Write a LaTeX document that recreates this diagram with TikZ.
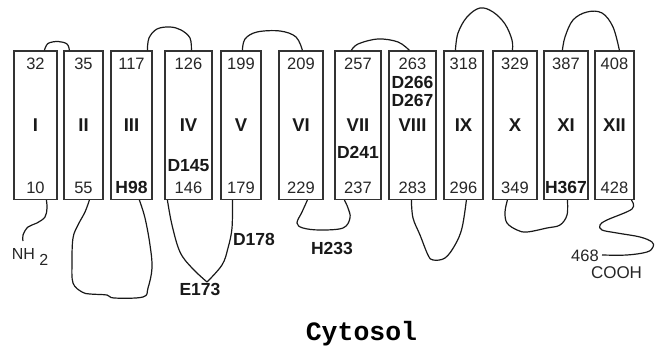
\documentclass[tikz,border=0pt]{standalone}
\usepackage{fontspec}
\setmainfont{Liberation Sans}
\newfontfamily\courfont{Liberation Mono}
\begin{document}
\begin{tikzpicture}[x=1pt,y=-1pt,
  tm/.style={draw=black!80, line width=1.2pt, minimum height=148.5pt, inner sep=0pt},
  num/.style={font=\fontsize{16.5}{18}\selectfont, text=black!85, inner sep=0pt},
  bl/.style={font=\bfseries\fontsize{17.5}{20}\selectfont, text=black!90, inner sep=0pt},
  rn/.style={font=\bfseries\fontsize{18.5}{20}\selectfont, text=black!90, inner sep=0pt},
  lp/.style={draw=black!90, line width=1.2pt, line join=round},
  sm/.style={smooth, tension=0.6}]
\useasboundingbox (0,0) rectangle (655,347);
% helices
\node[tm, minimum width=43pt] (b1)  at (35.5,125.25) {};
\node[tm, minimum width=39pt] (b2)  at (83.5,125.25) {};
\node[tm, minimum width=41pt] (b3)  at (131.5,125.25) {};
\node[tm, minimum width=47pt] (b4)  at (188.5,125.25) {};
\node[tm, minimum width=40pt] (b5)  at (241,125.25) {};
\node[tm, minimum width=44pt] (b6)  at (301,125.25) {};
\node[tm, minimum width=46pt] (b7)  at (358,125.25) {};
\node[tm, minimum width=47pt] (b8)  at (412.5,125.25) {};
\node[tm, minimum width=39pt] (b9)  at (463.5,125.25) {};
\node[tm, minimum width=44pt] (b10) at (515,125.25) {};
\node[tm, minimum width=44pt] (b11) at (566,125.25) {};
\node[tm, minimum width=39pt] (b12) at (614.5,125.25) {};
% roman numerals
\foreach \b/\r in {b1/I,b2/II,b3/III,b4/IV,b5/V,b6/VI,b7/VII,b8/VIII,b9/IX,b10/X,b11/XI,b12/XII}
  \node[rn] (r\b) at (\b.center) {\r};
% top numbers
\foreach \b/\t in {b1/32,b2/35,b3/117,b4/126,b5/199,b6/209,b7/257,b8/263,b9/318,b10/329,b11/387,b12/408}
  \node[num] (t\b) at ([yshift=-13pt]\b.north) {\t};
% bottom numbers
\foreach \b/\t in {b1/10,b2/55,b4/146,b5/179,b6/229,b7/237,b8/283,b9/296,b10/349,b12/428}
  \node[num] (s\b) at ([yshift=12.5pt]\b.south) {\t};
\node[bl] (h98)  at ([yshift=12.5pt]b3.south) {H98};
\node[bl] (h367) at ([yshift=12.5pt]b11.south) {H367};
\node[bl] (d145) at ([yshift=34.5pt]b4.south) {D145};
\node[bl] (d241) at ([yshift=47.5pt]b7.south) {D241};
\node[bl] (d266) at ([yshift=-32pt]b8.north) {D266};
\node[bl] (d267) at ([yshift=-50pt]b8.north) {D267};
% top loops
\coordinate (a1) at ([xshift=31pt]b1.north west);
\coordinate (a2) at ([xshift=6pt]b2.north west);
\coordinate (a3) at ([xshift=37pt]b3.north west);
\coordinate (a4) at ([xshift=27pt]b4.north west);
\coordinate (a5) at ([xshift=22pt]b5.north west);
\coordinate (a6) at ([xshift=24pt]b6.north west);
\coordinate (a7) at ([xshift=17pt]b7.north west);
\coordinate (a8) at ([xshift=21pt]b8.north west);
\coordinate (a9) at ([xshift=12pt]b9.north west);
\coordinate (a10) at ([xshift=20pt]b10.north west);
\coordinate (a11) at ([xshift=19pt]b11.north west);
\coordinate (a12) at ([xshift=25pt]b12.north west);
\draw[lp] plot[sm] coordinates {(a1) (48,43.5) (58,41.5) (67,44) (a2)};
\draw[lp] plot[sm] coordinates {(a3) (149,38) (157,29) (170,27) (181,30) (190,38) (a4)};
\draw[lp] plot[sm] coordinates {(a5) (245,39) (257,32) (280,31) (296,37) (a6)};
\draw[lp] plot[sm] coordinates {(a7) (358,44) (378,39) (398,42) (a8)};
\draw[lp] plot[sm] coordinates {(a9) (458,33) (467,17) (480,8) (493,12) (505,24) (512,40) (a10)};
\draw[lp] plot[sm] coordinates {(a11) (565,37) (573,20) (587,12) (602,13) (613,27) (a12)};
% bottom loops
\coordinate (c1) at ([xshift=33pt]b1.south west);
\coordinate (c2) at ([xshift=26pt]b2.south west);
\coordinate (c3) at ([xshift=29pt]b3.south west);
\coordinate (c4) at ([xshift=3pt]b4.south west);
\coordinate (c5) at ([xshift=12pt]b5.south west);
\coordinate (c6) at ([xshift=29pt]b6.south west);
\coordinate (c7) at ([xshift=10pt]b7.south west);
\coordinate (c8) at ([xshift=23pt]b8.south west);
\coordinate (c9) at ([xshift=23pt]b9.south west);
\coordinate (c10) at ([xshift=15pt]b10.south west);
\coordinate (c11) at ([xshift=24pt]b11.south west);
\coordinate (c12) at ([xshift=37pt]b12.south west);
\coordinate (nterm) at (23,241);
\coordinate (e173) at (207,282);
\coordinate (cterm) at (602,255);
\draw[lp] plot[sm] coordinates {(c1) (47,208) (45,217) (37,223) (28,227) (23,235) (nterm)};
\draw[lp] plot[sm] coordinates {(c2) (85,212) (78,225) (73,238) (72,262) (73,283) (82,292) (90,294) (107,295) (114,298) (143,297) (148,288) (152,268) (150,245) (145,218) (c3)};
\draw[lp] plot[sm] coordinates {(c4) (172,225) (180,252) (192,268) (e173)};
\draw[lp] plot[sm] coordinates {(e173) (222,265) (228,248) (232,228) (c5)};
\draw[lp] plot[sm] coordinates {(c6) (302,212) (297,223) (303,228) (320,230) (343,228) (350,218) (348,208) (c7)};
\draw[lp] plot[sm] coordinates {(c8) (413,218) (420,235) (428,255) (433,260) (445,258) (455,245) (462,228) (c9)};
\draw[lp] plot[sm] coordinates {(c10) (505,212) (507,223) (517,230) (527,232) (547,228) (560,225) (567,215) (c11)};
\draw[lp] plot[sm] coordinates {(c12) (632,209) (607,220) (600,225) (602,230) (617,233) (640,237) (652,242) (653,247) (647,252) (627,255) (cterm)};
% loop labels
\node[bl] (d178) at (254,239) {D178};
\node[bl] (le173) at (200,289) {E173};
\node[bl] (h233) at (332,248) {H233};
\node[num, font=\fontsize{16}{18}\selectfont] (nh2) at (30,257) {NH~\raisebox{-6pt}{2}};
\node[num] (n468) at (585,256) {468};
\node[num, font=\fontsize{17}{18}\selectfont] (cooh) at (616.5,273) {COOH};
\node[anchor=base, inner sep=0pt, font=\courfont\bfseries\fontsize{26.5}{28}\selectfont] (cyt) at (361.5,340) {Cytosol};
\end{tikzpicture}
\end{document}
